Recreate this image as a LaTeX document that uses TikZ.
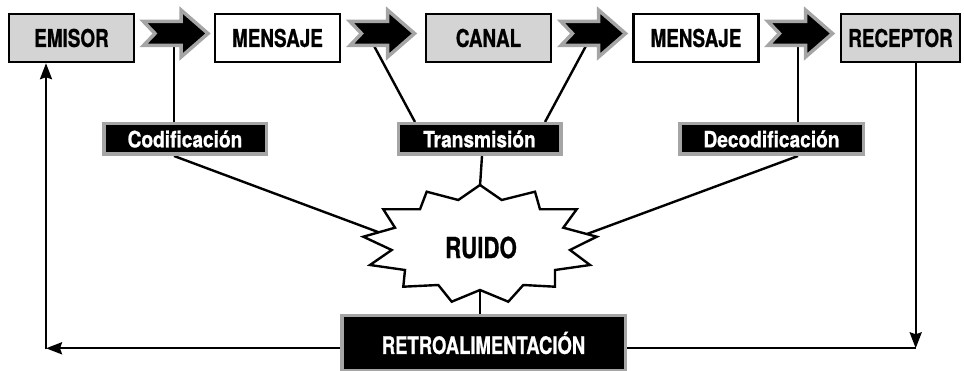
\documentclass[tikz,border=0pt]{standalone}
\usepackage{fontspec}
\setmainfont{TeX Gyre Heros}
\newfontfamily\capsf{TeX Gyre Heros}[FakeStretch=0.77, FakeBold=0.8]
\newfontfamily\lblf{TeX Gyre Heros}[FakeStretch=0.85, FakeBold=0.8]
\usetikzlibrary{arrows.meta,calc,backgrounds}
\definecolor{boxgray}{HTML}{D4D4D4}
\definecolor{edgegray}{HTML}{A5A5A5}
\tikzset{
  stagebox/.style={draw=black, line width=2.4pt, minimum width=125pt, minimum height=48pt, inner sep=0pt,
    font=\capsf\bfseries\fontsize{24.5}{26}\selectfont},
  graybox/.style={stagebox, fill=boxgray},
  whitebox/.style={stagebox, fill=white},
  tag/.style={fill=black, draw=edgegray, line width=3.5pt, text=white, minimum width=162.5pt,
    minimum height=30.5pt, inner sep=0pt, font=\lblf\bfseries\fontsize{22.5}{24}\selectfont},
  link/.style={line width=2.4pt, draw=black},
  fb/.style={link, -{Stealth[length=16pt,width=12pt,inset=2pt]}},
  flowarrow/.pic={\filldraw[draw=edgegray, fill=black, line width=3.5pt, line join=miter]
    (-32.5,-12) -- (-21,0) -- (-32.5,12) -- (5,12) -- (5,23.5) -- (32,0) -- (5,-23.5) -- (5,-12) -- cycle;}
}
\begin{document}
\begin{tikzpicture}[x=1pt,y=-1pt]
\useasboundingbox (0,0) rectangle (964,371);
% stage boxes
\node[graybox] (emi) at (71.5,38) {EMISOR};
\node[whitebox] (men1) at (277.5,38) {MENSAJE};
\node[graybox] (can) at (488.5,38) {CANAL};
\node[whitebox] (men2) at (696,38) {MENSAJE};
\node[graybox, minimum width=119pt] (rec) at (900.5,38) {RECEPTOR};
% flow arrows
\pic at (176,33.5) {flowarrow};
\pic at (382.5,33.5) {flowarrow};
\pic at (593.5,33.5) {flowarrow};
\pic at (800.5,33.5) {flowarrow};
\coordinate (a1) at (174,44);
\coordinate (a2) at (373,44);
\coordinate (a3) at (587,44);
\coordinate (a4) at (798,44);
% labels
\node[tag] (cod) at (185,139) {Codificación};
\node[tag] (tra) at (479.5,139) {Transmisión};
\node[tag, minimum width=183.5pt] (dec) at (771.5,139) {Decodificación};
% noise burst
\filldraw[fill=white, draw=black, line width=2.4pt, line join=miter]
  (480,185) -- (501.7,200) -- (535,191.7) -- (540,209.3) -- (576.7,209.3) -- (563.3,227.7)
  -- (596.7,236.7) -- (570,250) -- (590,265) -- (555,270) -- (555,286.7) -- (523.3,285)
  -- (508.3,301.7) -- (480,290) -- (451.7,301.7) -- (438.3,285) -- (403.3,286.7) -- (405,270)
  -- (370,265) -- (391.7,250) -- (363.3,236.7) -- (395,227.7) -- (383.3,209.3) -- (420,209.3)
  -- (426.7,191.7) -- (458.3,200) -- cycle;
\coordinate (bT) at (480,186);
\coordinate (bB) at (480,289);
\coordinate (bL) at (378,232);
\coordinate (bR) at (587,234);
\node[font=\capsf\bfseries\fontsize{29}{31}\selectfont] (ruido) at (481,247.5) {RUIDO};
% feedback
\node[tag, minimum width=283.5pt, minimum height=54.5pt, font=\capsf\bfseries\fontsize{24}{26}\selectfont]
  (ret) at (483.5,343) {RETROALIMENTACIÓN};
\coordinate (cR) at (915.7,348.3);
\coordinate (cL) at (46,348.3);
\begin{pgfonlayer}{background}
\draw[link] (a1) -- (a1 |- cod.north);
\draw[link] (a1 |- cod.south) -- (bL);
\draw[link] (a2) -- ($(tra.north)+(-64.5,0)$);
\draw[link] (a3) -- ($(tra.north)+(65.5,0)$);
\draw[link] ($(tra.south)+(2.5,0)$) -- (bT);
\draw[link] (a4) -- (a4 |- dec.north);
\draw[link] (a4 |- dec.south) -- (bR);
\draw[link] (bB) -- (bB |- ret.north);
\draw[fb] (rec.south -| cR) -- (cR);
\draw[link] (cR) -- (cR -| ret.east);
\draw[fb] (cL -| ret.west) -- (cL);
\draw[fb] ($(cL)+(0,1.2)$) -- (cL |- emi.south);
\end{pgfonlayer}
\end{tikzpicture}
\end{document}
